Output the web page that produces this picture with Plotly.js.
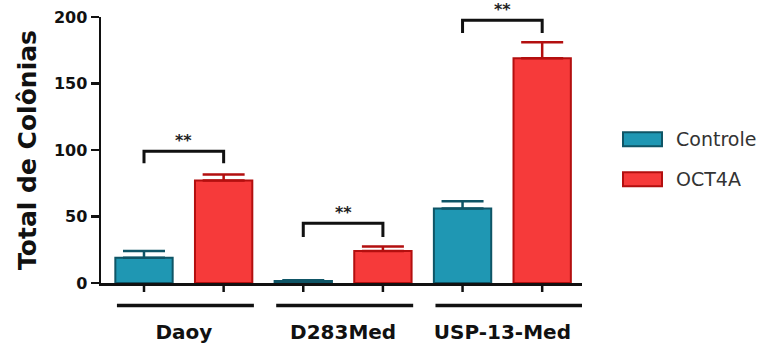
<!DOCTYPE html>
<html>
<head>
<meta charset="utf-8">
<script src="https://cdn.plot.ly/plotly-3.0.1.min.js"></script>
<style>html,body{margin:0;padding:0;background:#fff;}#chart{width:777px;height:349px;}</style>
</head>
<body>
<div id="chart"></div>
<script>
// ---- data ----
var categories = ["Daoy", "D283Med", "USP-13-Med"];
var seriesNames = ["Controle", "OCT4A"];
var controleValues = [19, 1.5, 56];
var controleErrors = [5, 0.5, 5.5];
var oct4aValues = [77, 24, 169];
var oct4aErrors = [4.5, 3.5, 12];
var significance = ["**", "**", "**"];
var bracketTop = [99, 45, 197.5];
var bracketBottom = [90, 34.5, 188];
var yTickVals = [0, 50, 100, 150, 200];

// ---- styles ----
var FONT = "DejaVu Sans, Liberation Sans, Arial, sans-serif";
var tealFill = "#1f97b3", tealLine = "#0f5566";
var redFill = "#f63a3a", redLine = "#b30f0f";
var yH = 265.7; // plot height px

var traces = [
  {
    type: "bar", name: seriesNames[0], x: categories, y: controleValues,
    marker: {color: tealFill, line: {color: tealLine, width: 2}},
    error_y: {type: "data", symmetric: false, array: controleErrors, arrayminus: controleErrors.map(function(){return 0;}),
              color: tealLine, thickness: 2.5, width: 21},
    showlegend: false, hoverinfo: "none"
  },
  {
    type: "bar", name: seriesNames[1], x: categories, y: oct4aValues,
    marker: {color: redFill, line: {color: redLine, width: 2}},
    error_y: {type: "data", symmetric: false, array: oct4aErrors, arrayminus: oct4aErrors.map(function(){return 0;}),
              color: redLine, thickness: 2.5, width: 21},
    showlegend: false, hoverinfo: "none"
  }
];

var shapes = [];
var annotations = [];
categories.forEach(function(c, i) {
  // ticks under each bar
  [-0.25, 0.25].forEach(function(off) {
    shapes.push({type: "line", xref: "x", yref: "paper", x0: i + off, x1: i + off, y0: 0, y1: -9 / yH,
                 line: {color: "#111", width: 2.5}});
  });
  // group underline
  shapes.push({type: "line", xref: "x", yref: "paper", x0: i - 0.42, x1: i + (i === categories.length - 1 ? 0.5 : 0.44),
               y0: -22.5 / yH, y1: -22.5 / yH, line: {color: "#111", width: 3.5}});
  // significance bracket
  shapes.push({type: "path", xref: "x", yref: "y",
               path: "M " + (i - 0.25) + "," + bracketBottom[i] + " L " + (i - 0.25) + "," + bracketTop[i] +
                     " L " + (i + 0.25) + "," + bracketTop[i] + " L " + (i + 0.25) + "," + bracketBottom[i],
               line: {color: "#111", width: 3}});
  annotations.push({xref: "x", yref: "y", x: i, y: bracketTop[i], yshift: 11, text: "<b>" + significance[i] + "</b>",
                    showarrow: false, font: {family: FONT, size: 16, color: "#222"}});
});

// custom legend
var legendFill = [tealFill, redFill], legendLine = [tealLine, redLine];
seriesNames.forEach(function(n, k) {
  var cy = 139 + k * 40;
  shapes.push({type: "rect", xref: "paper", yref: "paper",
               x0: (623 - 101) / 481, x1: (662 - 101) / 481,
               y0: (282.7 - (cy + 7)) / yH, y1: (282.7 - (cy - 7)) / yH,
               fillcolor: legendFill[k], line: {color: legendLine[k], width: 2}});
  annotations.push({xref: "paper", yref: "paper", x: (674 - 101) / 481, y: (282.7 - cy) / yH,
                    xanchor: "left", yanchor: "middle", text: n, showarrow: false,
                    font: {family: FONT, size: 19, color: "#333"}});
});

var layout = {
  width: 777, height: 349,
  margin: {l: 101, r: 195, t: 17, b: 66.3, pad: 0},
  paper_bgcolor: "#fff", plot_bgcolor: "#fff",
  barmode: "group", bargap: 0, bargroupgap: 0.28,
  showlegend: false,
  xaxis: {
    type: "category", range: [-0.52, 2.5], showgrid: false, zeroline: false,
    showline: true, linecolor: "#111", linewidth: 2.5, ticks: "",
    ticklabelstandoff: 29,
    tickfont: {family: FONT, size: 20, color: "#111", weight: "bold"}
  },
  yaxis: {
    range: [0, 200], tickvals: yTickVals, showgrid: false, zeroline: false,
    showline: true, linecolor: "#111", linewidth: 2.5,
    ticks: "outside", ticklen: 8, tickwidth: 2.5, tickcolor: "#111",
    tickfont: {family: FONT, size: 16, color: "#111", weight: "bold"},
    title: {text: "Total de Colônias", standoff: 10, font: {family: FONT, size: 25, color: "#111", weight: "bold"}}
  },
  shapes: shapes,
  annotations: annotations
};

Plotly.newPlot("chart", traces, layout, {staticPlot: true, displayModeBar: false});
</script>
</body>
</html>
